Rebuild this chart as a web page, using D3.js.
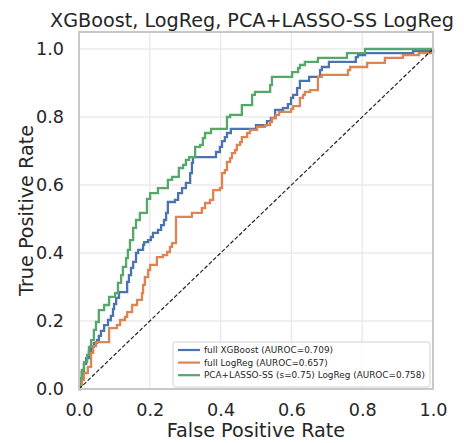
<!DOCTYPE html>
<html>
<head>
<meta charset="utf-8">
<script src="https://cdn.jsdelivr.net/npm/d3@7"></script>
<style>
  html, body { margin: 0; padding: 0; background: #fff; }
  svg { display: block; font-family: "DejaVu Sans", sans-serif; }
</style>
</head>
<body>
<svg id="chart" width="464" height="443"></svg>
<script>
// ─── data: ROC steps as [fpr, tpr] (tpr reached at that fpr) ────────────────
const xgbRoc = [
  [0, 0], [0.003, 0.026], [0.008, 0.050], [0.014, 0.074], [0.020, 0.091], [0.028, 0.109],
  [0.034, 0.124], [0.042, 0.135], [0.051, 0.144], [0.056, 0.156], [0.062, 0.171],
  [0.071, 0.188], [0.082, 0.203], [0.090, 0.215], [0.096, 0.235], [0.099, 0.250],
  [0.105, 0.268], [0.113, 0.285], [0.136, 0.315], [0.141, 0.335], [0.147, 0.356],
  [0.153, 0.374], [0.161, 0.400], [0.167, 0.409], [0.181, 0.424], [0.184, 0.432],
  [0.195, 0.438], [0.203, 0.447], [0.209, 0.459], [0.223, 0.468], [0.232, 0.482],
  [0.240, 0.497], [0.246, 0.518], [0.251, 0.550], [0.271, 0.556], [0.280, 0.576],
  [0.291, 0.591], [0.302, 0.606], [0.314, 0.635], [0.319, 0.665], [0.322, 0.682],
  [0.387, 0.697], [0.398, 0.712], [0.404, 0.729], [0.412, 0.741], [0.418, 0.753],
  [0.429, 0.765], [0.500, 0.776], [0.531, 0.788], [0.542, 0.797], [0.554, 0.821],
  [0.576, 0.826], [0.590, 0.838], [0.599, 0.856], [0.605, 0.865], [0.616, 0.885],
  [0.624, 0.906], [0.650, 0.918], [0.681, 0.938], [0.686, 0.947], [0.706, 0.962],
  [0.782, 0.976], [0.788, 0.982], [0.808, 0.988], [0.944, 0.994], [1.0, 1.0]
];

const logregRoc = [
  [0, 0], [0.003, 0.012], [0.008, 0.026], [0.014, 0.047], [0.025, 0.065], [0.034, 0.106],
  [0.040, 0.126], [0.048, 0.138], [0.085, 0.179], [0.107, 0.188], [0.116, 0.203],
  [0.130, 0.212], [0.136, 0.226], [0.150, 0.247], [0.164, 0.262], [0.178, 0.282],
  [0.181, 0.306], [0.186, 0.329], [0.195, 0.350], [0.201, 0.365], [0.220, 0.388],
  [0.237, 0.394], [0.249, 0.403], [0.257, 0.418], [0.263, 0.429], [0.274, 0.506],
  [0.319, 0.518], [0.347, 0.532], [0.356, 0.547], [0.370, 0.556], [0.379, 0.585],
  [0.398, 0.591], [0.404, 0.635], [0.412, 0.644], [0.418, 0.668], [0.427, 0.679],
  [0.432, 0.694], [0.441, 0.703], [0.446, 0.718], [0.455, 0.726], [0.460, 0.741],
  [0.475, 0.753], [0.483, 0.762], [0.503, 0.771], [0.525, 0.776], [0.540, 0.785],
  [0.545, 0.797], [0.556, 0.806], [0.565, 0.815], [0.599, 0.824], [0.605, 0.832],
  [0.624, 0.856], [0.633, 0.865], [0.638, 0.874], [0.653, 0.879], [0.675, 0.918],
  [0.686, 0.924], [0.760, 0.938], [0.766, 0.947], [0.814, 0.959], [0.864, 0.974],
  [0.915, 0.982], [0.960, 0.988], [1.0, 1.0]
];

const pcaRoc = [
  [0, 0], [0.003, 0.032], [0.008, 0.056], [0.014, 0.079], [0.023, 0.100], [0.028, 0.124],
  [0.034, 0.144], [0.042, 0.174], [0.048, 0.197], [0.056, 0.232], [0.071, 0.247],
  [0.085, 0.271], [0.102, 0.282], [0.110, 0.312], [0.119, 0.335], [0.124, 0.359],
  [0.133, 0.385], [0.138, 0.409], [0.144, 0.438], [0.153, 0.474], [0.161, 0.497],
  [0.172, 0.518], [0.192, 0.559], [0.201, 0.576], [0.223, 0.591], [0.251, 0.615],
  [0.263, 0.624], [0.282, 0.650], [0.294, 0.659], [0.302, 0.674], [0.311, 0.682],
  [0.328, 0.712], [0.342, 0.718], [0.350, 0.738], [0.356, 0.753], [0.373, 0.765],
  [0.418, 0.800], [0.427, 0.806], [0.460, 0.835], [0.489, 0.865], [0.497, 0.874],
  [0.540, 0.894], [0.545, 0.918], [0.602, 0.932], [0.619, 0.944], [0.624, 0.953],
  [0.638, 0.962], [0.675, 0.974], [0.757, 0.988], [0.808, 1.0], [1.0, 1.0]
];

const seriesNames = [
  "full XGBoost (AUROC=0.709)",
  "full LogReg (AUROC=0.657)",
  "PCA+LASSO-SS (s=0.75) LogReg (AUROC=0.758)"
];
const seriesColors = ["#4c72b0", "#dd8452", "#55a868"];
const ticks = [0, 0.2, 0.4, 0.6, 0.8, 1.0];

// ─── layout ──────────────────────────────────────────────────────────────────
const svg = d3.select("#chart");
const plotL = 79, plotR = 433, plotT = 32, plotB = 389;

const x = d3.scaleLinear().domain([0, 1]).range([plotL, plotR]);
const y = d3.scaleLinear().domain([0, 1.05]).range([plotB, plotT]);

// grid
const grid = svg.append("g");
grid.selectAll(".gx").data(ticks).enter().append("line")
  .attr("x1", d => x(d)).attr("x2", d => x(d))
  .attr("y1", plotT).attr("y2", plotB)
  .attr("stroke", "#ebebeb").attr("stroke-width", 1.5);
grid.selectAll(".gy").data(ticks).enter().append("line")
  .attr("x1", plotL).attr("x2", plotR)
  .attr("y1", d => y(d)).attr("y2", d => y(d))
  .attr("stroke", "#ebebeb").attr("stroke-width", 1.5);

// curves
const line = d3.line()
  .x(d => x(d[0]))
  .y(d => y(d[1]))
  .curve(d3.curveStepAfter);

[xgbRoc, logregRoc, pcaRoc].forEach((pts, i) => {
  svg.append("path")
    .datum(pts)
    .attr("d", line)
    .attr("fill", "none")
    .attr("stroke", seriesColors[i])
    .attr("stroke-width", 2.3)
    .attr("stroke-linejoin", "miter");
});

// chance diagonal
svg.append("line")
  .attr("x1", x(0)).attr("y1", y(0))
  .attr("x2", x(1)).attr("y2", y(1))
  .attr("stroke", "#222").attr("stroke-width", 1.2)
  .attr("stroke-dasharray", "4,2");

// frame
svg.append("rect")
  .attr("x", plotL).attr("y", plotT)
  .attr("width", plotR - plotL).attr("height", plotB - plotT)
  .attr("fill", "none").attr("stroke", "#c8c8c8").attr("stroke-width", 2);

// axes
const xAxis = svg.append("g")
  .attr("transform", `translate(0,${plotB})`)
  .call(d3.axisBottom(x).tickValues(ticks).tickFormat(d3.format(".1f")).tickSize(0).tickPadding(15));
const yAxis = svg.append("g")
  .attr("transform", `translate(${plotL},0)`)
  .call(d3.axisLeft(y).tickValues(ticks).tickFormat(d3.format(".1f")).tickSize(0).tickPadding(15));

[xAxis, yAxis].forEach(g => {
  g.select(".domain").remove();
  g.selectAll("text")
    .attr("font-family", "DejaVu Sans, sans-serif")
    .attr("font-size", 17.6)
    .attr("fill", "#262626");
});

// labels
svg.append("text")
  .attr("x", 252).attr("y", 27)
  .attr("text-anchor", "middle")
  .attr("font-size", 19.2).attr("fill", "#262626")
  .text("XGBoost, LogReg, PCA+LASSO-SS LogReg");

svg.append("text")
  .attr("x", (plotL + plotR) / 2).attr("y", 437)
  .attr("text-anchor", "middle")
  .attr("font-size", 19.2).attr("fill", "#262626")
  .text("False Positive Rate");

svg.append("text")
  .attr("transform", `translate(33,${(plotT + plotB) / 2}) rotate(-90)`)
  .attr("text-anchor", "middle")
  .attr("font-size", 19.2).attr("fill", "#262626")
  .text("True Positive Rate");

// legend
const legend = svg.append("g").attr("transform", "translate(173,342)");
legend.append("rect")
  .attr("width", 257).attr("height", 45)
  .attr("rx", 2.5)
  .attr("fill", "#fff").attr("fill-opacity", 0.8)
  .attr("stroke", "#d0d0d0").attr("stroke-width", 1);

seriesNames.forEach((name, i) => {
  const row = legend.append("g").attr("transform", `translate(0,${8 + i * 12.6})`);
  row.append("line")
    .attr("x1", 5).attr("x2", 27)
    .attr("stroke", seriesColors[i]).attr("stroke-width", 2.2);
  row.append("text")
    .attr("x", 31).attr("dy", "0.35em")
    .attr("font-size", 8.9).attr("fill", "#262626")
    .text(name);
});
</script>
</body>
</html>
